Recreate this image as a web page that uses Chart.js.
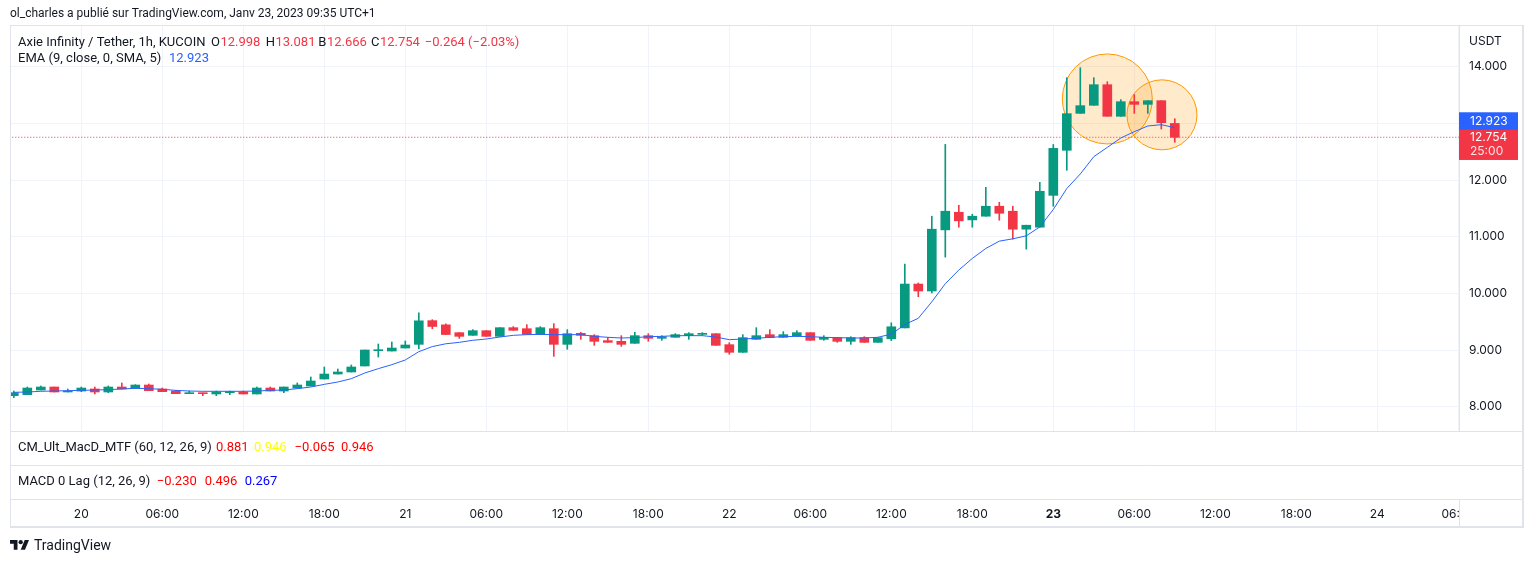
<!DOCTYPE html>
<html>
<head>
<meta charset="utf-8">
<script src="https://cdn.jsdelivr.net/npm/chart.js@4.4.0/dist/chart.umd.min.js"></script>
<style>
  html, body { margin: 0; padding: 0; background: #fff; }
</style>
</head>
<body>
<canvas id="chart" width="1533" height="562"></canvas>
<script>
// hourly candles AXS/USDT, hour 0 = Jan 20 00:00, first candle is Jan 19 19:00
const firstHour = -5;
const opens = [
  8.194, 8.212, 8.294, 8.347, 8.259, 8.276, 8.312, 8.259, 8.347, 8.324,
  8.382, 8.312, 8.276, 8.229, 8.241, 8.224, 8.247, 8.259, 8.224, 8.329,
  8.276, 8.329, 8.365, 8.488, 8.576, 8.612, 8.718, 8.988, 8.982, 9.035,
  9.1, 9.518, 9.444, 9.306, 9.259, 9.341, 9.241, 9.394, 9.376, 9.276,
  9.376, 9.1, 9.294, 9.253, 9.165, 9.153, 9.118, 9.253, 9.206, 9.224,
  9.253, 9.276, 9.288, 9.094, 8.959, 9.188, 9.271, 9.224, 9.253, 9.306,
  9.188, 9.218, 9.153, 9.218, 9.135, 9.198, 9.39, 10.164, 10.041, 11.12,
  11.431, 11.296, 11.361, 11.537, 11.449, 11.132, 11.167, 11.729, 12.524, 13.176,
  13.318, 13.682, 13.124, 13.382, 13.335, 13.4, 12.998
];
const highs = [
  8.276, 8.347, 8.365, 8.347, 8.312, 8.347, 8.347, 8.365, 8.418, 8.388,
  8.4, 8.329, 8.288, 8.276, 8.241, 8.276, 8.276, 8.276, 8.347, 8.347,
  8.347, 8.418, 8.524, 8.7, 8.665, 8.735, 9.0, 9.106, 9.141, 9.159,
  9.656, 9.535, 9.462, 9.306, 9.359, 9.341, 9.394, 9.412, 9.447, 9.412,
  9.465, 9.359, 9.312, 9.271, 9.224, 9.253, 9.312, 9.288, 9.253, 9.288,
  9.306, 9.306, 9.288, 9.129, 9.271, 9.394, 9.359, 9.324, 9.341, 9.306,
  9.253, 9.224, 9.235, 9.235, 9.218, 9.48, 10.516, 10.182, 11.361, 12.628,
  11.554, 11.396, 11.871, 11.607, 11.537, 11.202, 11.959, 12.626, 13.806, 13.982,
  13.806, 13.735, 13.418, 13.506, 13.4, 13.4, 13.081
];
const lows = [
  8.159, 8.212, 8.294, 8.259, 8.259, 8.265, 8.224, 8.247, 8.312, 8.324,
  8.282, 8.265, 8.229, 8.229, 8.194, 8.194, 8.212, 8.224, 8.224, 8.276,
  8.247, 8.329, 8.365, 8.488, 8.576, 8.612, 8.718, 8.876, 8.982, 9.035,
  9.02, 9.375, 9.271, 9.206, 9.259, 9.241, 9.241, 9.347, 9.276, 9.276,
  8.888, 9.012, 9.188, 9.082, 9.135, 9.065, 9.118, 9.153, 9.171, 9.224,
  9.188, 9.259, 9.082, 8.924, 8.959, 9.188, 9.218, 9.224, 9.235, 9.171,
  9.171, 9.135, 9.1, 9.135, 9.135, 9.166, 9.39, 9.941, 10.006, 10.639,
  11.167, 11.167, 11.361, 11.29, 10.956, 10.78, 11.167, 11.536, 12.171, 13.176,
  13.318, 13.124, 13.124, 13.176, 13.176, 12.9, 12.666
];
const closes = [
  8.247, 8.329, 8.347, 8.259, 8.276, 8.329, 8.259, 8.347, 8.312, 8.382,
  8.282, 8.265, 8.229, 8.241, 8.229, 8.259, 8.259, 8.224, 8.329, 8.276,
  8.347, 8.382, 8.453, 8.576, 8.612, 8.7, 9.0, 9.0, 9.035, 9.088,
  9.515, 9.415, 9.273, 9.241, 9.341, 9.241, 9.394, 9.347, 9.276, 9.394,
  9.1, 9.288, 9.259, 9.153, 9.135, 9.1, 9.253, 9.206, 9.235, 9.271,
  9.288, 9.294, 9.082, 8.959, 9.218, 9.253, 9.218, 9.271, 9.306, 9.171,
  9.224, 9.153, 9.218, 9.135, 9.218, 9.41, 10.164, 10.041, 11.132, 11.449,
  11.279, 11.361, 11.537, 11.413, 11.132, 11.202, 11.801, 12.558, 13.171, 13.312,
  13.682, 13.124, 13.382, 13.335, 13.4, 13.012, 12.754
];
// EMA (9, close, 0, SMA, 5)
const emaValues = [
  8.253, 8.259, 8.271, 8.276, 8.282, 8.288, 8.294, 8.3, 8.312, 8.324,
  8.318, 8.306, 8.288, 8.276, 8.271, 8.271, 8.271, 8.271, 8.276, 8.288,
  8.294, 8.318, 8.347, 8.394, 8.435, 8.494, 8.594, 8.671, 8.741, 8.824,
  8.97, 9.06, 9.11, 9.135, 9.171, 9.194, 9.229, 9.259, 9.271, 9.276,
  9.271, 9.271, 9.271, 9.241, 9.224, 9.212, 9.218, 9.235, 9.241, 9.253,
  9.253, 9.253, 9.229, 9.182, 9.194, 9.206, 9.224, 9.235, 9.241, 9.235,
  9.224, 9.218, 9.212, 9.212, 9.224, 9.28, 9.45, 9.56, 9.85, 10.17,
  10.411, 10.616, 10.792, 10.921, 10.962, 11.015, 11.173, 11.48, 11.85, 12.106,
  12.412, 12.576, 12.741, 12.853, 12.953, 12.976, 12.923
];

const tickHours = [0, 6, 12, 18, 24, 30, 36, 42, 48, 54, 60, 66, 72, 78, 84, 90, 96, 102];
const tickLabels = ["20", "06:00", "12:00", "18:00", "21", "06:00", "12:00", "18:00", "22",
  "06:00", "12:00", "18:00", "23", "06:00", "12:00", "18:00", "24", "06:00"];
const priceTicks = [8, 9, 10, 11, 12, 13, 14];

// orange circles drawn on the chart (center in hour / price)
const circleNotes = [
  { hour: 76.0, price: 13.43, radius: 45 },
  { hour: 80.05, price: 13.15, radius: 35 },
];

const upColor = "#089981";
const downColor = "#f23645";
const emaColor = "#2962ff";
const textColor = "#131722";
const lineColor = "#e0e3eb";
const axisFont = "Inter, 'Noto Sans', sans-serif";
const textFont = "Roboto, 'Noto Sans', sans-serif";

const hours = opens.map((o, i) => firstHour + i);
const candleColors = opens.map((o, i) => (closes[i] >= o ? upColor : downColor));
const lastClose = closes[closes.length - 1];
const lastEma = emaValues[emaValues.length - 1];

const drawText = (ctx, text, x, y, color, size = 13, family = textFont) => {
  ctx.font = `${size}px ${family}`;
  ctx.fillStyle = color;
  ctx.textAlign = "left";
  ctx.textBaseline = "middle";
  ctx.fillText(text, x, y);
  return ctx.measureText(text).width;
};

// letter + value pairs of the legend: [label, value, x]
const drawPairs = (ctx, pairs, y) => {
  pairs.forEach(([label, value, x]) => {
    const w = label ? drawText(ctx, label, x, y, textColor) : 0;
    drawText(ctx, value, x + w + 0.5, y, downColor);
  });
};

const chartDecor = {
  id: "chartDecor",
  beforeDatasetsDraw(chart) {
    const { ctx } = chart;
    const x = chart.scales.x;
    const y = chart.scales.y;
    ctx.save();
    // indicator panes hide the grid
    ctx.fillStyle = "#fff";
    ctx.fillRect(10.5, 431, 1512, 68);
    // circle drawings
    circleNotes.forEach((c) => {
      ctx.beginPath();
      ctx.arc(x.getPixelForValue(c.hour), y.getPixelForValue(c.price), c.radius, 0, Math.PI * 2);
      ctx.fillStyle = "rgba(255, 152, 0, 0.2)";
      ctx.fill();
      ctx.lineWidth = 1;
      ctx.strokeStyle = "#ff9800";
      ctx.stroke();
    });
    ctx.restore();
  },
  afterDraw(chart) {
    const { ctx } = chart;
    const y = chart.scales.y;
    ctx.save();

    // header
    drawText(ctx, "ol_charles a publié sur TradingView.com, Janv 23, 2023 09:35 UTC+1", 10, 14, textColor, 12);

    // legend
    drawText(ctx, "Axie Infinity / Tether, 1h, KUCOIN", 18, 43, textColor);
    drawPairs(ctx, [["O", "12.998", 211], ["H", "13.081", 265.7], ["B", "12.666", 318.3],
      ["C", "12.754", 371], ["", "\u22120.264 (\u22122.03%)", 424.3]], 43);
    drawText(ctx, "EMA (9, close, 0, SMA, 5)", 18, 59, textColor);
    drawText(ctx, "12.923", 169, 59, emaColor);

    // corner under the price axis
    ctx.fillStyle = "#fff";
    ctx.fillRect(1459.5, 500, 63, 26);

    // pane separators and frame
    ctx.strokeStyle = lineColor;
    ctx.lineWidth = 1;
    ctx.beginPath();
    [431.5, 465.5, 499.5].forEach((py) => {
      ctx.moveTo(10, py);
      ctx.lineTo(1523, py);
    });
    ctx.moveTo(1459.5, 499);
    ctx.lineTo(1459.5, 527);
    ctx.moveTo(10.5, 25);
    ctx.lineTo(10.5, 527);
    ctx.moveTo(10, 25.5);
    ctx.lineTo(1523, 25.5);
    ctx.stroke();
    ctx.lineWidth = 2;
    ctx.beginPath();
    ctx.moveTo(1523, 25);
    ctx.lineTo(1523, 528);
    ctx.moveTo(10, 527);
    ctx.lineTo(1524, 527);
    ctx.stroke();

    // indicator panes
    drawText(ctx, "CM_Ult_MacD_MTF (60, 12, 26, 9)", 18, 448, textColor);
    drawText(ctx, "0.881", 216, 448, "#ff0000");
    drawText(ctx, "0.946", 254, 448, "#ffff00");
    drawText(ctx, "\u22120.065", 294.5, 448, "#ff0000");
    drawText(ctx, "0.946", 341, 448, "#ff0000");
    drawText(ctx, "MACD 0 Lag (12, 26, 9)", 18, 482, textColor);
    drawText(ctx, "\u22120.230", 156.7, 482, "#ff0000");
    drawText(ctx, "0.496", 204.7, 482, "#ff0000");
    drawText(ctx, "0.267", 244.7, 482, "#0000ff");

    // price axis
    drawText(ctx, "USDT", 1469, 41, textColor, 12, axisFont);
    const yPrice = y.getPixelForValue(lastClose);
    const redTop = yPrice - 7.3;
    ctx.fillStyle = downColor;
    ctx.fillRect(1459, redTop, 59, 30);
    ctx.fillStyle = emaColor;
    ctx.fillRect(1459, redTop - 17.7, 59, 17.7);
    drawText(ctx, lastEma.toFixed(3), 1470, redTop - 8.5, "#fff", 12, axisFont);
    drawText(ctx, lastClose.toFixed(3), 1470, yPrice, "#fff", 12, axisFont);
    drawText(ctx, "25:00", 1470, yPrice + 14.5, "rgba(255,255,255,0.85)", 12, axisFont);

    // TradingView logo
    const s = 0.535, lx = 10, ly = 537.9;
    ctx.fillStyle = textColor;
    ctx.beginPath();
    [[14, 22], [7, 22], [7, 11], [0, 11], [0, 4], [14, 4]].forEach(([px, py], i) => {
      if (i === 0) ctx.moveTo(lx + px * s, ly + py * s);
      else ctx.lineTo(lx + px * s, ly + py * s);
    });
    ctx.closePath();
    ctx.fill();
    ctx.beginPath();
    [[28, 22], [20, 22], [27.5, 4], [35.5, 4]].forEach(([px, py], i) => {
      if (i === 0) ctx.moveTo(lx + px * s, ly + py * s);
      else ctx.lineTo(lx + px * s, ly + py * s);
    });
    ctx.closePath();
    ctx.fill();
    ctx.beginPath();
    ctx.arc(lx + 20 * s, ly + 8 * s, 4 * s, 0, Math.PI * 2);
    ctx.fill();
    drawText(ctx, "TradingView", 34, 546, textColor, 14);

    ctx.restore();
  },
};

const ctx = document.getElementById("chart");
const myChart = new Chart(ctx, {
  type: "bar",
  data: {
    datasets: [
      {
        type: "line",
        label: "EMA",
        data: hours.map((h, i) => ({ x: h, y: emaValues[i] })),
        borderColor: emaColor,
        borderWidth: 1,
        pointRadius: 0,
        tension: 0,
        order: 0,
      },
      {
        label: "bodies",
        data: hours.map((h, i) => ({ x: h, y: [opens[i], closes[i]] })),
        backgroundColor: candleColors,
        barThickness: 9,
        minBarLength: 1,
        grouped: false,
        order: 1,
      },
      {
        label: "wicks",
        data: hours.map((h, i) => ({ x: h, y: [lows[i], highs[i]] })),
        backgroundColor: candleColors,
        barThickness: 1,
        grouped: false,
        order: 2,
      },
      {
        type: "line",
        label: "last price",
        data: [{ x: -6, y: lastClose }, { x: 103, y: lastClose }],
        borderColor: downColor,
        borderWidth: 1,
        borderDash: [1, 2],
        pointRadius: 0,
        order: 3,
      },
    ],
  },
  options: {
    responsive: false,
    animation: false,
    events: [],
    layout: { padding: { left: 10, right: 10, top: 25, bottom: 35 } },
    plugins: {
      legend: { display: false },
      tooltip: { enabled: false },
    },
    scales: {
      x: {
        type: "linear",
        min: -5.2815,
        max: 102.052,
        offset: false,
        grid: { color: "#f0f3fa", drawTicks: false, offset: false },
        border: { display: true, color: lineColor },
        afterBuildTicks: (scale) => {
          scale.ticks = tickHours.map((h) => ({ value: h }));
        },
        afterFit: (scale) => {
          scale.height = 28;
        },
        ticks: {
          autoSkip: false,
          maxRotation: 0,
          padding: 8,
          color: textColor,
          font: (c) => ({
            family: axisFont,
            size: 12,
            weight: tickLabels[c.index] === "23" ? "bold" : "normal",
          }),
          callback: (value, index) => tickLabels[index],
        },
      },
      y: {
        position: "right",
        min: 6.3706,
        max: 14.7353,
        grid: { color: "#f0f3fa", drawTicks: false },
        border: { display: true, color: lineColor },
        afterBuildTicks: (scale) => {
          scale.ticks = priceTicks.map((v) => ({ value: v }));
        },
        afterFit: (scale) => {
          scale.width = 64;
        },
        ticks: {
          padding: 10,
          color: textColor,
          font: { family: axisFont, size: 12 },
          callback: (value) => value.toFixed(3),
        },
      },
    },
  },
  plugins: [chartDecor],
});
</script>
</body>
</html>
